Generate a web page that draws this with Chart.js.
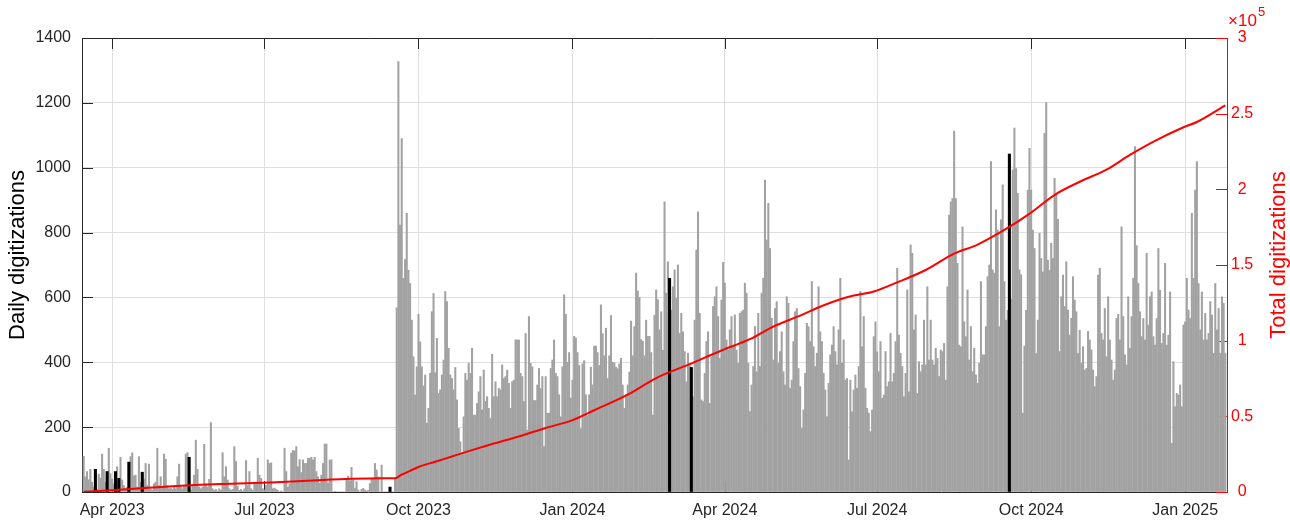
<!DOCTYPE html>
<html><head><meta charset="utf-8">
<script src="https://cdn.jsdelivr.net/npm/chart.js@4/dist/chart.umd.min.js"></script>
<style>html,body{margin:0;padding:0;background:#fff}#wrap{width:1290px;height:520px;position:relative}</style>
</head><body><div id="wrap"><canvas id="c" width="1290" height="520"></canvas></div>
<script>
// Day index 0 = 2023-03-15, one bar per day
const startDate = '2023-03-15';
const tickDays = [17, 108, 200, 292, 383, 474, 566, 658];
const tickLabels = ['Apr 2023', 'Jul 2023', 'Oct 2023', 'Jan 2024', 'Apr 2024', 'Jul 2024', 'Oct 2024', 'Jan 2025'];
const leftTicks = [0, 200, 400, 600, 800, 1000, 1200, 1400];
const rightTicks = [0, 50000, 100000, 150000, 200000, 250000, 300000];

const mar23 = [110,47,63,38,70,30,15,70,8,55,43,117,70,30,63,135,57];
const apr23 = [40,25,63,78,42,107,37,20,10,15,92,109,121,50,52,15,109,30,61,40,88,20,86,10,5,25,30,135,20,47];
const may23 = [15,117,101,20,10,12,8,15,10,47,86,15,10,20,117,121,107,6,20,52,160,70,15,10,15,147,25,15,39,214,10];
const jun23 = [5,8,3,10,6,121,47,78,37,10,5,8,140,94,17,5,8,3,10,97,20,63,10,5,27,30,104,52,42,10];
const jul23 = [6,20,99,88,90,10,12,8,5,0,3,0,135,63,15,25,120,128,127,140,78,100,60,99,88,88,104,104,107,99,107];
const aug23 = [63,47,27,52,88,148,148,27,99,99,0,2,0,0,0,0,0,0,37,49,35,76,37,11,32,6,0,8,11,6,3];
const sep23 = [5,26,42,42,88,68,47,0,83,0,0,0,0,15,0,0,42,568,1327,823,1090,659,717,859,684,643,530,417,299,386];
const oct23 = [548,463,386,327,361,212,258,366,556,612,368,474,304,315,361,407,618,587,443,361,350,315,384,284,196,155,119,232,366,345,397];
const nov23 = [366,443,237,237,273,309,356,253,376,279,294,258,227,425,294,340,294,320,315,392,350,356,376,335,258,340,345,469,469,469];
const dec23 = [366,356,279,489,191,541,397,386,282,282,330,381,319,356,140,356,243,243,381,407,469,366,356,300,232,386,608,548,400,430,290];
const jan24 = [345,480,475,430,390,195,395,405,300,235,300,385,330,450,450,430,390,577,488,420,505,350,420,544,400,398,385,380,395,412,330];
const feb24 = [258,300,330,370,527,420,510,675,620,600,470,465,420,530,480,480,430,237,545,623,593,500,556,437,895,613,710,659,561];
const mar24 = [633,685,597,700,489,551,494,433,340,428,397,384,294,530,746,864,551,284,279,366,464,494,273,417,572,602,633,541,412,592,708];
const apr24 = [644,469,438,500,541,448,546,438,397,551,556,561,644,613,397,248,330,387,510,371,551,387,613,659,962,777,890,751,536,407];
const may24 = [566,587,397,433,494,371,330,602,582,320,345,464,556,566,381,325,196,253,366,520,510,464,649,448,387,428,633,494,464,366,315];
const jun24 = [232,335,423,453,510,433,392,500,659,397,469,345,350,99,345,247,315,361,320,387,618,448,541,320,258,243,186,253,479,525];
const jul24 = [432,371,464,289,299,433,325,340,489,340,366,464,690,484,428,387,294,366,623,309,762,736,500,546,304,402,371,392,530,392,633];
const aug24 = [407,530,407,392,443,412,356,438,433,458,345,633,854,895,905,1113,905,705,453,448,818,525,479,623,407,510,371,443,361,335,397];
const sep24 = [649,423,423,510,664,700,1019,685,675,870,808,510,839,947,649,530,560,1042,594,993,1122,997,921,685,670,243,450,560,931,1060];
const oct24 = [931,808,751,427,530,798,720,679,1106,1201,715,684,767,720,967,921,841,433,602,669,572,710,561,484,536,664,592,556,427,499,397];
const nov24 = [448,376,381,495,469,438,376,325,356,669,690,489,469,566,417,602,469,407,345,376,535,548,469,818,541,423,392,602,443,541];
const dec24 = [659,1065,760,643,556,479,535,469,736,515,602,617,479,453,535,751,622,458,489,705,453,484,617,150,402,263,304,299,330,263,515];
const jan25 = [525,659,561,535,859,659,931,1019,643,500,617,469,551,469,489,587,546,428,643,500,566,428,602,582,428];

// days drawn in black
const highlightDays = [7, 14, 19, 21, 27, 35, 63, 183, 350, 363, 553];

// cumulative total
const totalDays = [0,28,56,84,112,140,160,178,186,190,195,200,210,220,230,245,261,275,292,305,325,342,362,381,399,411,429,441,457,472,486,503,520,534,552,564,581,595,611,625,640,657,665,682];
const totalValues = [100,2000,4000,5300,6300,7800,8700,9100,9150,11500,14000,16500,20000,23500,27000,32000,37000,42000,47500,54000,64300,75300,84500,93500,101500,108800,117000,122900,129000,132500,138500,146700,157500,163500,174500,183100,197000,205000,213000,222700,232000,241000,244500,255500];

const daily = [].concat(mar23, apr23, may23, jun23, jul23, aug23, sep23, oct23, nov23, dec23,
  jan24, feb24, mar24, apr24, may24, jun24, jul24, aug24, sep24, oct24, nov24, dec24, jan25);

const FONT = "'Liberation Sans', Arial, Helvetica, sans-serif";
const AXIS = '#262626';
const RED = '#ff0000';

const axisDecor = {
  id: 'axisDecor',
  beforeDatasetsDraw(chart) {
    const {ctx, chartArea: {left, right, top, bottom}, scales: {x, y, y2}} = chart;
    const tl = 11;
    ctx.save();
    ctx.lineWidth = 1;
    ctx.strokeStyle = AXIS;
    ctx.beginPath();
    ctx.moveTo(left, top + 0.5); ctx.lineTo(right, top + 0.5);
    tickDays.forEach(d => {
      const px = Math.round(x.getPixelForValue(d)) + 0.5;
      ctx.moveTo(px, top); ctx.lineTo(px, top + tl);
      ctx.moveTo(px, bottom); ctx.lineTo(px, bottom - tl);
    });
    leftTicks.forEach(v => {
      const py = Math.round(y.getPixelForValue(v)) + 0.5;
      ctx.moveTo(left, py); ctx.lineTo(left + tl, py);
    });
    ctx.stroke();
    ctx.strokeStyle = RED;
    ctx.beginPath();
    rightTicks.forEach(v => {
      const py = Math.round(y2.getPixelForValue(v)) + 0.5;
      ctx.moveTo(right, py); ctx.lineTo(right - tl, py);
    });
    ctx.stroke();
    ctx.restore();
  },
  afterDraw(chart) {
    const {ctx, chartArea: {right}} = chart;
    ctx.save();
    ctx.fillStyle = RED;
    ctx.textAlign = 'left';
    ctx.textBaseline = 'alphabetic';
    ctx.font = '17px ' + FONT;
    ctx.fillText('\u00d710', right + 1, 26);
    ctx.font = '13px ' + FONT;
    ctx.fillText('5', right + 31, 16);
    ctx.restore();

    const titles = [
      {text: 'Daily digitizations', x: 18, color: '#000000'},
      {text: 'Total digitizations', x: 1279, color: RED}
    ];
    titles.forEach(t => {
      ctx.save();
      ctx.translate(t.x, 255);
      ctx.rotate(-Math.PI / 2);
      ctx.textAlign = 'center';
      ctx.textBaseline = 'middle';
      ctx.fillStyle = t.color;
      ctx.font = '22px ' + FONT;
      ctx.fillText(t.text, 0, 0);
      ctx.restore();
    });
  }
};

new Chart(document.getElementById('c'), {
  type: 'bar',
  data: {
    datasets: [
      {
        type: 'line',
        data: totalDays.map((d, i) => ({x: d, y: totalValues[i]})),
        yAxisID: 'y2',
        borderColor: RED,
        borderWidth: 2,
        pointRadius: 0,
        cubicInterpolationMode: 'monotone',
        fill: false,
        order: 0
      },
      {
        type: 'bar',
        data: highlightDays.map(d => ({x: d, y: daily[d]})),
        yAxisID: 'y',
        backgroundColor: '#000000',
        borderWidth: 0,
        grouped: false,
        barThickness: 2.4,
        order: 1
      },
      {
        type: 'bar',
        data: daily.map((v, i) => ({x: i, y: v})),
        yAxisID: 'y',
        backgroundColor: '#a2a2a2',
        borderWidth: 0,
        grouped: false,
        barThickness: 1.4,
        order: 2
      }
    ]
  },
  options: {
    responsive: false,
    animation: false,
    devicePixelRatio: 1,
    layout: {padding: {top: 38, left: 0, right: 0, bottom: 0}},
    plugins: {legend: {display: false}, tooltip: {enabled: false}},
    scales: {
      x: {
        type: 'linear', min: -1, max: 683, offset: false,
        afterBuildTicks: s => { s.ticks = tickDays.map(v => ({value: v})); },
        afterFit: s => { s.height = 28; },
        ticks: {autoSkip: false, maxRotation: 0, padding: 9, color: AXIS, font: {family: FONT, size: 16},
          callback: (v, i) => tickLabels[i]},
        grid: {color: '#dfdfdf', drawTicks: false, offset: false},
        border: {color: AXIS}
      },
      y: {
        position: 'left', min: 0, max: 1400,
        afterBuildTicks: s => { s.ticks = leftTicks.map(v => ({value: v})); },
        afterFit: s => { s.width = 82; },
        ticks: {padding: 11, color: AXIS, font: {family: FONT, size: 16}, callback: v => String(v)},
        grid: {color: '#dfdfdf', drawTicks: false},
        border: {color: AXIS}
      },
      y2: {
        position: 'right', min: 0, max: 300000,
        afterBuildTicks: s => { s.ticks = rightTicks.map(v => ({value: v})); },
        afterFit: s => { s.width = 63; },
        ticks: {padding: 4, crossAlign: 'center', color: RED, font: {family: FONT, size: 16},
          callback: v => String(v / 100000)},
        grid: {display: false, drawTicks: false},
        border: {color: RED}
      }
    }
  },
  plugins: [axisDecor]
});
</script>
</body></html>
